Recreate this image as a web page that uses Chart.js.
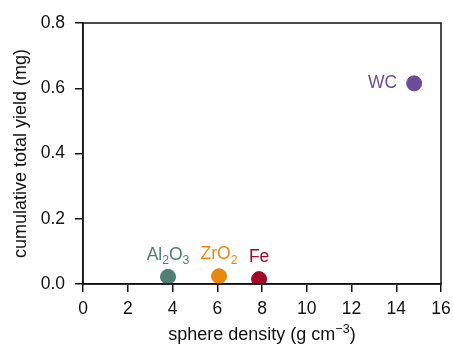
<!DOCTYPE html>
<html>
<head>
<meta charset="utf-8">
<script src="https://cdn.jsdelivr.net/npm/chart.js@4"></script>
<style>
  html, body { margin: 0; padding: 0; background: #fff; }
  #wrap { width: 453px; height: 348px; }
</style>
</head>
<body>
<div id="wrap"><canvas id="grafico"></canvas></div>
<script>
// datos
const materiales = ["Al2O3", "ZrO2", "Fe", "WC"];
const densidades = [3.8, 6.08, 7.87, 14.8];
const rendimientos = [0.022, 0.024, 0.015, 0.615];
const colores = ["#4f7e72", "#e8890e", "#a3072a", "#6b4c9c"];
const ticksX = [0, 2, 4, 6, 8, 10, 12, 14, 16];
const ticksY = [0, 0.2, 0.4, 0.6, 0.8];

const fuente = "'Liberation Sans', Arial, sans-serif";
const negro = "#111";
const tamTicks = 17.5;
const tamTitulo = 18;
const tamEtiqueta = 17.5;

// dibuja un texto con los numeros como subindices, devuelve el ancho
function textoQuimico(ctx, texto, x, y, tam, medir) {
    const partes = texto.match(/[^0-9]+|[0-9]+/g);
    let ancho = 0;
    partes.forEach(p => {
        const sub = /^[0-9]+$/.test(p);
        ctx.font = (sub ? tam * 0.7 : tam) + "px " + fuente;
        if (!medir) ctx.fillText(p, x + ancho, y + (sub ? tam * 0.25 : 0));
        ancho += ctx.measureText(p).width;
    });
    return ancho;
}

// marco completo y titulo del eje x con superindice
const marco = {
    id: "marco",
    afterDraw(chart) {
        const { ctx, chartArea: a } = chart;
        ctx.save();
        ctx.strokeStyle = negro;
        ctx.lineWidth = 1.5;
        ctx.strokeRect(a.left, a.top, a.right - a.left, a.bottom - a.top);

        const base = "sphere density (g cm";
        const sup = "−3";
        const tamSup = tamTitulo * 0.7;
        ctx.fillStyle = negro;
        ctx.textBaseline = "alphabetic";
        ctx.textAlign = "left";
        ctx.font = tamTitulo + "px " + fuente;
        const w1 = ctx.measureText(base).width;
        const w3 = ctx.measureText(")").width;
        ctx.font = tamSup + "px " + fuente;
        const w2 = ctx.measureText(sup).width;
        const total = w1 + w2 + w3;
        const cx = (a.left + a.right) / 2;
        const yb = 340;
        const x = cx - total / 2;
        ctx.font = tamTitulo + "px " + fuente;
        ctx.fillText(base, x, yb);
        ctx.font = tamSup + "px " + fuente;
        ctx.fillText(sup, x + w1, yb - 7);
        ctx.font = tamTitulo + "px " + fuente;
        ctx.fillText(")", x + w1 + w2, yb);
        ctx.restore();
    }
};

// etiquetas de cada punto
const etiquetas = {
    id: "etiquetas",
    afterDatasetsDraw(chart) {
        const { ctx, scales } = chart;
        ctx.save();
        ctx.textAlign = "left";
        materiales.forEach((nombre, i) => {
            const x = scales.x.getPixelForValue(densidades[i]);
            const y = scales.y.getPixelForValue(rendimientos[i]);
            ctx.fillStyle = colores[i];
            const w = textoQuimico(ctx, nombre, 0, 0, tamEtiqueta, true);
            if (nombre === "WC") {
                ctx.textBaseline = "middle";
                textoQuimico(ctx, nombre, x - 17 - w, y, tamEtiqueta, false);
            } else {
                ctx.textBaseline = "alphabetic";
                textoQuimico(ctx, nombre, x - w / 2, y - 17, tamEtiqueta, false);
            }
        });
        ctx.restore();
    }
};

new Chart(document.getElementById("grafico").getContext("2d"), {
    type: "scatter",
    data: {
        datasets: [{
            data: densidades.map((d, i) => ({ x: d, y: rendimientos[i] })),
            backgroundColor: colores,
            borderColor: colores,
            pointRadius: 7.5,
            pointHoverRadius: 7.5
        }]
    },
    options: {
        responsive: true,
        maintainAspectRatio: false,
        animation: false,
        layout: { padding: { top: 23, right: 12, left: 0, bottom: 0 } },
        plugins: {
            legend: { display: false },
            tooltip: { enabled: false }
        },
        scales: {
            x: {
                type: "linear",
                min: 0,
                max: 16,
                afterBuildTicks(axis) { axis.ticks = ticksX.map(v => ({ value: v })); },
                afterFit(axis) {
                    axis.height = 64;
                    axis.paddingLeft = 0;
                    axis.paddingRight = 0;
                },
                grid: { drawOnChartArea: false, drawTicks: true, tickLength: 8, color: negro, lineWidth: 1.5 },
                border: { display: true, color: negro, width: 1.5 },
                ticks: { color: negro, font: { family: fuente, size: tamTicks }, padding: 7, maxRotation: 0 },
                title: { display: false }
            },
            y: {
                type: "linear",
                min: 0,
                max: 0.8,
                afterBuildTicks(axis) { axis.ticks = ticksY.map(v => ({ value: v })); },
                afterFit(axis) {
                    axis.width = 83;
                    axis.paddingTop = 0;
                    axis.paddingBottom = 0;
                },
                grid: { drawOnChartArea: false, drawTicks: true, tickLength: 8, color: negro, lineWidth: 1.5 },
                border: { display: true, color: negro, width: 1.5 },
                ticks: { color: negro, font: { family: fuente, size: tamTicks }, padding: 10, callback: v => v.toFixed(1) },
                title: { display: true, text: "cumulative total yield (mg)", color: negro, font: { family: fuente, size: tamTitulo }, padding: { top: 10, bottom: 0 } }
            }
        }
    },
    plugins: [marco, etiquetas]
});
</script>
</body>
</html>
